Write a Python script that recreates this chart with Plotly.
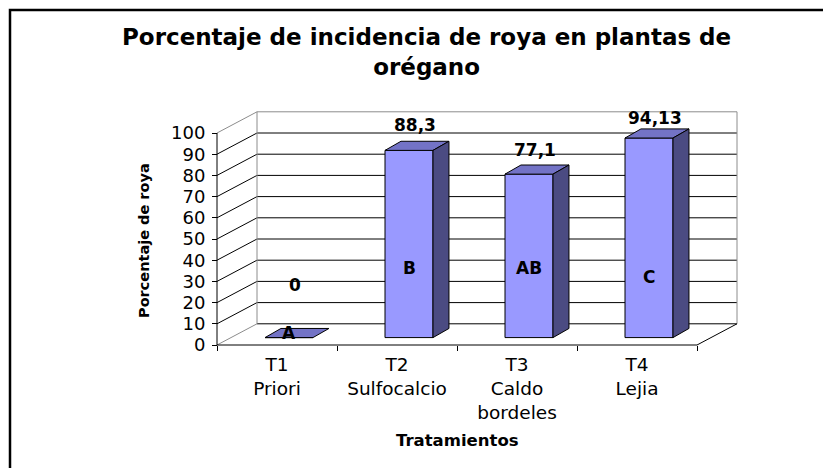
import plotly.graph_objects as go

# ---------------- data ----------------
categories = ["T1<br>Priori", "T2<br>Sulfocalcio", "T3<br>Caldo<br>bordeles", "T4<br>Lejia"]
values = [0, 88.3, 77.1, 94.13]
groups = ["A", "B", "AB", "C"]
y_ticks = list(range(0, 101, 10))
title_text = "Porcentaje de incidencia de roya en plantas de<br>orégano"
x_title = "Tratamientos"
y_title = "Porcentaje de roya"

# ---------------- layout constants ----------------
W, H = 831, 468
PAGE = 8                    # default page margin of the html body
X0PX, XSTEP = 277 - PAGE, 120   # pixel of first category centre, pixels per category
Y0PX, YSCALE = 345 - PAGE, 2.12 # pixel of value 0, pixels per unit
DX, DY = 40 / 120, 10       # depth of the 3-D box (axis units)
BAR_BASE = 3.5
BAR_OFF, BAR_W = -0.1, 0.4
BDX, BDY = 0.133, 4.3       # depth of each bar
label_lift = [28.3, 15.5, 14.9, 13.0]
group_y = [5.7, 36.3, 36.3, 32.1]
FONT = "DejaVu Sans"
FRONT, TOP, SIDE = "#9999FF", "#7373C6", "#4B4B82"
GRAY = "#8C8C8C"


def px(x):
    return (x - PAGE) / W


def py(y):
    return 1 - (y - PAGE) / H


n = len(values)
xs = list(range(n))
xl, xr = -0.5, n - 0.5

fig = go.Figure()
fig.add_trace(go.Bar(
    x=xs, y=values, base=BAR_BASE, width=BAR_W, offset=BAR_OFF,
    marker=dict(color=FRONT, line=dict(color="black", width=1)),
    hoverinfo="skip", showlegend=False,
))

shapes = []


def line(x0, y0, x1, y1, color="black", width=1, layer="below"):
    shapes.append(dict(type="line", xref="x", yref="y", x0=x0, y0=y0, x1=x1, y1=y1,
                       line=dict(color=color, width=width), layer=layer))


# side wall diagonals and back wall grid
for v in y_ticks:
    edge = v in (y_ticks[0], y_ticks[-1])
    line(xl, v, xl + DX, v + DY, color=GRAY if edge else "black")
    line(xl + DX, v + DY, xr + DX, v + DY, color=GRAY if v == y_ticks[-1] else "black")
line(xl + DX, DY, xl + DX, y_ticks[-1] + DY, color=GRAY)
line(xr + DX, DY, xr + DX, y_ticks[-1] + DY, color=GRAY)
line(xr, 0, xr + DX, DY)
# front axes
line(xl, 0, xl, y_ticks[-1])
line(xl, 0, xr, 0)

# bar top and side faces
for i, v in enumerate(values):
    x0 = i + BAR_OFF
    x1 = x0 + BAR_W
    b, t = BAR_BASE, BAR_BASE + v
    top = f"M {x0},{t} L {x0+BDX},{t+BDY} L {x1+BDX},{t+BDY} L {x1},{t} Z"
    shapes.append(dict(type="path", xref="x", yref="y", path=top, fillcolor=TOP,
                       line=dict(color="black", width=1), layer="above"))
    if v > 0:
        side = f"M {x1},{b} L {x1+BDX},{b+BDY} L {x1+BDX},{t+BDY} L {x1},{t} Z"
        shapes.append(dict(type="path", xref="x", yref="y", path=side, fillcolor=SIDE,
                           line=dict(color="black", width=1), layer="above"))

# outer frame
shapes.append(dict(type="rect", xref="paper", yref="paper", x0=px(10), x1=1.05,
                   y0=-0.05, y1=py(10), line=dict(color="black", width=2.5),
                   fillcolor="rgba(0,0,0,0)", layer="above"))

annotations = []
for i, v in enumerate(values):
    annotations.append(dict(x=i + 0.15, y=v + label_lift[i], xref="x", yref="y",
                            text=str(v).replace(".", ","), showarrow=False,
                            font=dict(family=FONT, size=17, color="black", weight="bold")))
    annotations.append(dict(x=i + BAR_OFF + BAR_W / 2, y=group_y[i], xref="x", yref="y",
                            text=groups[i], showarrow=False,
                            font=dict(family=FONT, size=17, color="black", weight="bold")))

annotations.append(dict(x=px(426), y=py(52), xref="paper", yref="paper",
                        text=title_text, showarrow=False, xanchor="center", yanchor="middle",
                        font=dict(family=FONT, size=23, color="black", weight="bold")))
annotations.append(dict(x=px(457), y=py(440), xref="paper", yref="paper",
                        text=x_title, showarrow=False, xanchor="center", yanchor="middle",
                        font=dict(family=FONT, size=16.5, color="black", weight="bold")))
annotations.append(dict(x=px(144), y=py(241), xref="paper", yref="paper",
                        text=y_title, showarrow=False, textangle=-90,
                        xanchor="center", yanchor="middle",
                        font=dict(family=FONT, size=14.5, color="black", weight="bold")))

fig.update_layout(
    width=W, height=H, margin=dict(l=0, r=0, t=0, b=0),
    paper_bgcolor="white", plot_bgcolor="white",
    shapes=shapes, annotations=annotations, showlegend=False,
    xaxis=dict(range=[-X0PX / XSTEP, (W - X0PX) / XSTEP], tickvals=xs, ticktext=categories,
               ticks="", showgrid=False, zeroline=False, showline=False,
               anchor="free", position=1 - Y0PX / H, automargin=False,
               tickfont=dict(family=FONT, size=18.5, color="black"),
               ticklabelstandoff=6,
               minor=dict(tickvals=[k - 0.5 for k in range(n + 1)], ticks="outside",
                          ticklen=5, tickcolor="black", tickwidth=1, showgrid=False),
               fixedrange=True),
    yaxis=dict(range=[-(H - Y0PX) / YSCALE, Y0PX / YSCALE], tickvals=y_ticks,
               ticks="outside", ticklen=5, tickcolor="black", showgrid=False,
               zeroline=False, showline=False, anchor="free",
               position=(X0PX - 0.5 * XSTEP) / W, automargin=False,
               tickfont=dict(family=FONT, size=18, color="black"),
               ticklabelstandoff=3, fixedrange=True),
)

fig.write_html("out.html")
